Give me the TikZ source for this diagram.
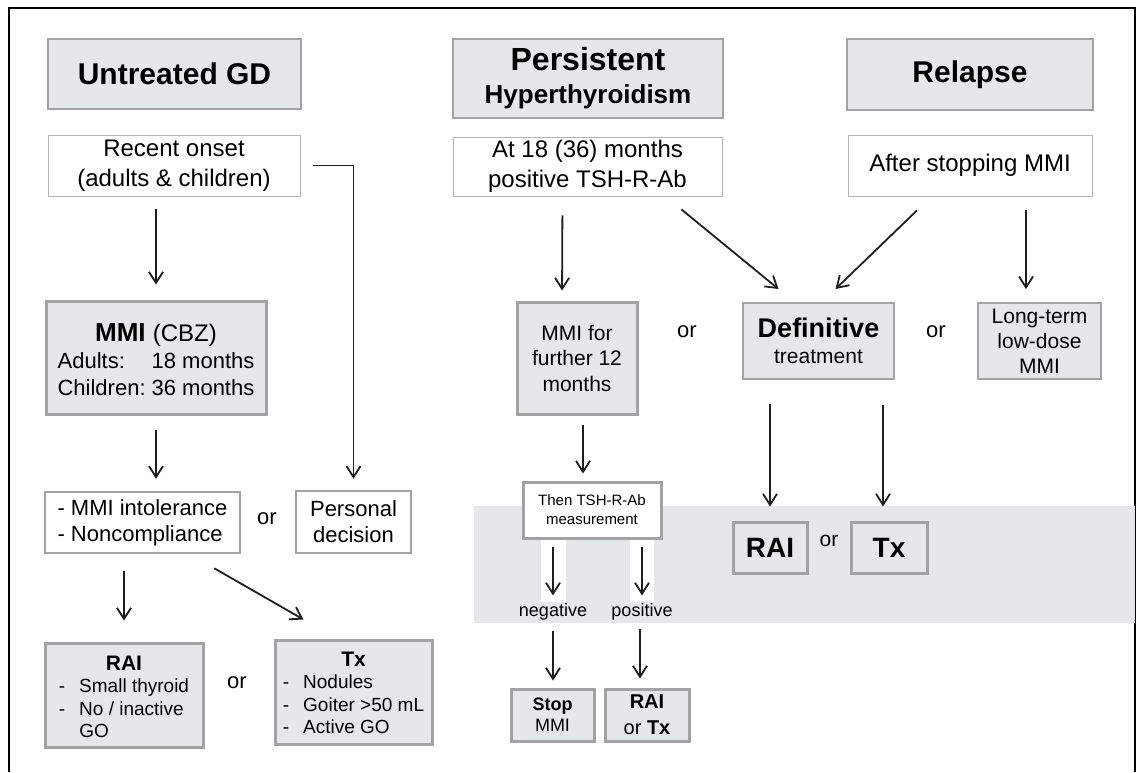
\documentclass[tikz,border=0pt]{standalone}
\usepackage{fontspec}
\setmainfont{Liberation Sans}
\usetikzlibrary{arrows.meta}
\definecolor{boxfill}{RGB}{230,231,232}
\definecolor{boxline}{RGB}{163,163,163}
\definecolor{thinline}{RGB}{180,180,180}
\definecolor{arrowline}{RGB}{30,30,30}
\newcommand{\setfs}[2]{\fontsize{#1}{#2}\selectfont}

\begin{document}
\begin{tikzpicture}[x=1pt,y=-1pt,
  headbox/.style={draw=boxline,fill=boxfill,line width=2.5pt,inner sep=0pt,align=center,font=\bfseries\setfs{30}{34}},
  plainbox/.style={draw=thinline,fill=white,line width=0.8pt,inner sep=0pt,align=center,font=\setfs{24}{30}},
  greybox/.style={draw=boxline,fill=boxfill,line width=2.5pt,inner sep=0pt,align=center},
  whitebox/.style={draw=boxline,fill=white,line width=2.5pt,inner sep=0pt,align=center},
  ortext/.style={font=\setfs{22}{26},inner sep=0pt},
  arr/.style={draw=arrowline,line width=1.8pt,-{Straight Barb[length=11pt,width=14pt]}}]
  \useasboundingbox (0,0) rectangle (1138,772);
  % frame and shaded band
  \draw[line width=1.3pt] (9,772) -- (9,8) -- (1135,8) -- (1135,772);
  \fill[boxfill] (474,506) rectangle (1135,623);
  \fill[white] (541,538) rectangle (566,602);
  \fill[white] (630,538) rectangle (654,602);

  % column heads
  \node[headbox,minimum width=253pt,minimum height=70pt] (untreated) at (174.5,74) {Untreated GD};
  \node[headbox,minimum width=270pt,minimum height=79pt,font=\bfseries\setfs{32}{33}] (persistent) at (588,78.5) {Persistent\\{\setfs{26}{33}Hyperthyroidism}};
  \node[headbox,minimum width=246pt,minimum height=71pt] (relapse) at (970,74.5) {Relapse};

  \node[plainbox,minimum width=252pt,minimum height=61pt] (recent) at (174,165.5) {Recent onset\\(adults \& children)};
  \node[plainbox,minimum width=269pt,minimum height=59pt] (atmonths) at (587.5,166.5) {At 18 (36) months\\positive TSH-R-Ab};
  \node[plainbox,minimum width=244pt,minimum height=61pt] (afterstop) at (970,165.5) {After stopping MMI};

  % untreated GD
  \node[greybox,line width=3pt,minimum width=220pt,minimum height=113pt,font=\setfs{22}{27}] (mmi) at (156,357.5)
    {{\rule{0pt}{31pt}\setfs{26}{27}\textbf{MMI} {\setfs{24}{27}(CBZ)}}\\\begin{tabular}[t]{@{}l@{\hspace{6pt}}l@{}}Adults: & 18 months\\Children: & 36 months\end{tabular}};
  \node[whitebox,minimum width=195pt,minimum height=61pt,align=left,font=\setfs{22}{26}] (intol) at (142.5,522.5) {- MMI intolerance\\- Noncompliance};
  \node[ortext] (or1) at (267,519) {or};
  \node[whitebox,minimum width=115pt,minimum height=62pt,font=\setfs{22}{26}] (personal) at (353.5,522) {Personal\\decision};
  \node[greybox,line width=3pt,minimum width=158pt,minimum height=104pt,font=\setfs{19}{22.5}] (railist) at (124,695)
    {{\rule{0pt}{25pt}\bfseries\setfs{21}{22.5}RAI}\\\begin{tabular}[t]{@{}l@{\hspace{14pt}}l@{}}-&Small thyroid\\-&No / inactive\\&GO\end{tabular}};
  \node[ortext] (or2) at (237,683) {or};
  \node[greybox,line width=3pt,minimum width=157pt,minimum height=104pt,font=\setfs{19}{22.5}] (txlist) at (353.5,692)
    {{\rule{0pt}{23pt}\bfseries\setfs{21}{22.5}Tx}\\\begin{tabular}[t]{@{}l@{\hspace{14pt}}l@{}}-&Nodules\\-&Goiter >50 mL\\-&Active GO\end{tabular}};

  % persistent hyperthyroidism and relapse
  \node[greybox,line width=3pt,minimum width=120pt,minimum height=112pt,font=\setfs{21}{25.5}] (further) at (577,358) {MMI for\\further 12\\months};
  \node[ortext] (or3) at (687,332) {or};
  \node[greybox,line width=2pt,minimum width=151pt,minimum height=76pt,font=\setfs{21}{26}] (definitive) at (818.5,341) {{\bfseries\setfs{27}{26}Definitive}\\treatment};
  \node[ortext] (or4) at (936,332) {or};
  \node[greybox,line width=1.8pt,minimum width=123pt,minimum height=76pt,font=\setfs{21}{25}] (longterm) at (1039.5,341) {Long-term\\low-dose\\MMI};
  \node[whitebox,line width=3pt,minimum width=138pt,minimum height=56pt,font=\setfs{15}{19}] (thentsh) at (592,510) {Then TSH-R-Ab\\measurement};
  \node[greybox,line width=3pt,minimum width=74pt,minimum height=51pt,font=\bfseries\setfs{28}{30}] (rai) at (770,547.5) {RAI};
  \node[ortext,font=\setfs{21}{24}] (or5) at (829,541) {or};
  \node[greybox,line width=3pt,minimum width=76pt,minimum height=51pt,font=\bfseries\setfs{28}{30}] (tx) at (889,547.5) {Tx};
  \node[font=\setfs{18}{20},inner sep=1pt] (negative) at (553,612) {negative};
  \node[font=\setfs{18}{20},inner sep=1pt] (positive) at (642,612) {positive};
  \node[greybox,line width=3pt,minimum width=83pt,minimum height=52pt,font=\setfs{18}{21}] (stop) at (552.5,715) {\textbf{Stop}\\MMI};
  \node[greybox,line width=3pt,minimum width=84pt,minimum height=52pt,font=\setfs{20}{26}] (raitx) at (647,715) {\textbf{RAI}\\or \textbf{Tx}};

  % arrows
  \draw[arr,shorten <=13pt,shorten >=15pt] (recent.south -| mmi.north) -- (mmi.north);
  \draw[arr,shorten >=11pt] ([xshift=13pt]recent.east) -| (personal.north);
  \draw[arr,shorten <=14pt,shorten >=12pt] (mmi.south) -- (mmi.south |- intol.north);
  \draw[arr,shorten <=17pt,shorten >=21pt] (intol.south -| railist.north) -- (railist.north);
  \draw[arr] ([xshift=-27pt,yshift=-14pt]intol.south east) -- ([xshift=-50pt,yshift=19pt]txlist.north);
  \draw[arr,shorten <=19pt,shorten >=10pt] ([xshift=-25pt]atmonths.south) -- ([xshift=-15pt]further.north);
  \draw[arr] ([xshift=-41pt,yshift=-13pt]atmonths.south east) -- ([xshift=-40pt,yshift=13pt]definitive.north);
  \draw[arr] ([xshift=-53pt,yshift=-14pt]afterstop.south) -- ([xshift=17pt,yshift=13pt]definitive.north);
  \draw[arr,shorten <=14pt,shorten >=13pt] ([xshift=56pt]afterstop.south) -- ([xshift=-13.5pt]longterm.north);
  \draw[arr,shorten <=9pt,shorten >=7pt] ([xshift=6pt]further.south) -- ([xshift=-9pt]thentsh.north);
  \draw[arr,shorten <=24pt,shorten >=14pt] (definitive.south -| rai.north) -- (rai.north);
  \draw[arr,shorten <=25pt,shorten >=14pt] ([xshift=64.5pt]definitive.south) -- ([xshift=-6pt]tx.north);
  \draw[arr,shorten <=7pt,shorten >=7pt] (thentsh.south -| negative.north) -- (negative.north);
  \draw[arr,shorten <=7pt,shorten >=7pt] (thentsh.south -| positive.north) -- (positive.north);
  \draw[arr,shorten <=9pt,shorten >=7pt] (negative.south) -- (negative.south |- stop.north);
  \draw[arr,shorten <=7pt,shorten >=9pt] ([xshift=-2pt]positive.south) -- ([xshift=-2pt]positive.south |- raitx.north);
\end{tikzpicture}
\end{document}
